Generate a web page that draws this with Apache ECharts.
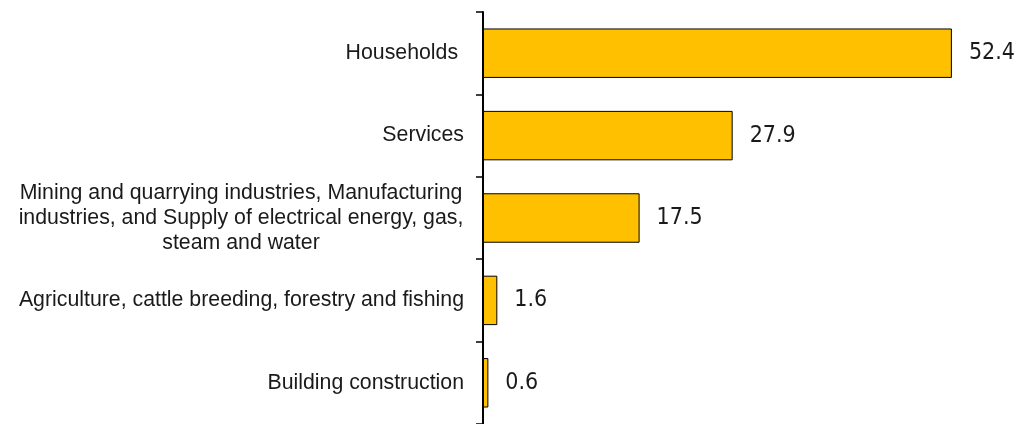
<!DOCTYPE html>
<html>
<head>
<meta charset="utf-8">
<script src="https://cdn.jsdelivr.net/npm/echarts@6/dist/echarts.min.js"></script>
<style>html,body{margin:0;padding:0;background:#fff;}#c{width:1017px;height:424px;}</style>
</head>
<body>
<div id="c"></div>
<script>
const categories = [
  "Households ",
  "Services",
  "Mining and quarrying industries, Manufacturing\nindustries, and Supply of electrical energy, gas,\nsteam and water",
  "Agriculture, cattle breeding, forestry and fishing",
  "Building construction"
];
const values = [52.4, 27.9, 17.5, 1.6, 0.6];

const LABEL_SIZE = 21.3;
const LABEL_FAMILY = '"Liberation Sans", Arial, sans-serif';
const cv = document.createElement('canvas').getContext('2d');
cv.font = LABEL_SIZE + 'px ' + LABEL_FAMILY;
function labelFormatter(v) {
  const lines = v.split('\n');
  if (lines.length === 1) return v;
  return lines.map(l => '{m|' + l + '}').join('\n');
}
let maxW = 0;
categories.forEach(c => c.split('\n').forEach(l => { maxW = Math.max(maxW, cv.measureText(l).width); }));

const chart = echarts.init(document.getElementById('c'));
chart.setOption({
  animation: false,
  grid: { left: 483, top: 12, width: 519, height: 416, containLabel: false },
  xAxis: {
    type: 'value', min: 0, max: 58, show: false
  },
  yAxis: {
    type: 'category', data: categories, inverse: true,
    axisLine: { lineStyle: { color: '#000', width: 2 } },
    axisTick: { show: true, length: 7, lineStyle: { color: '#000', width: 1.5 } },
    axisLabel: {
      margin: 19, color: '#1a1a1a', fontFamily: LABEL_FAMILY,
      fontSize: LABEL_SIZE, lineHeight: 25, align: 'right',
      formatter: labelFormatter,
      rich: {
        m: { width: Math.ceil(maxW), align: 'center', fontSize: LABEL_SIZE, lineHeight: 25,
             color: '#1a1a1a', fontFamily: LABEL_FAMILY }
      }
    }
  },
  series: [{
    type: 'bar', data: values, barCategoryGap: '40%',
    itemStyle: { color: '#FFC000', borderColor: '#000', borderWidth: 1 },
    label: {
      show: true, position: 'right', distance: 17, color: '#1a1a1a',
      fontFamily: '"DejaVu Sans Condensed", "DejaVu Sans", sans-serif', fontSize: 23
    }
  }]
});
</script>
</body>
</html>
